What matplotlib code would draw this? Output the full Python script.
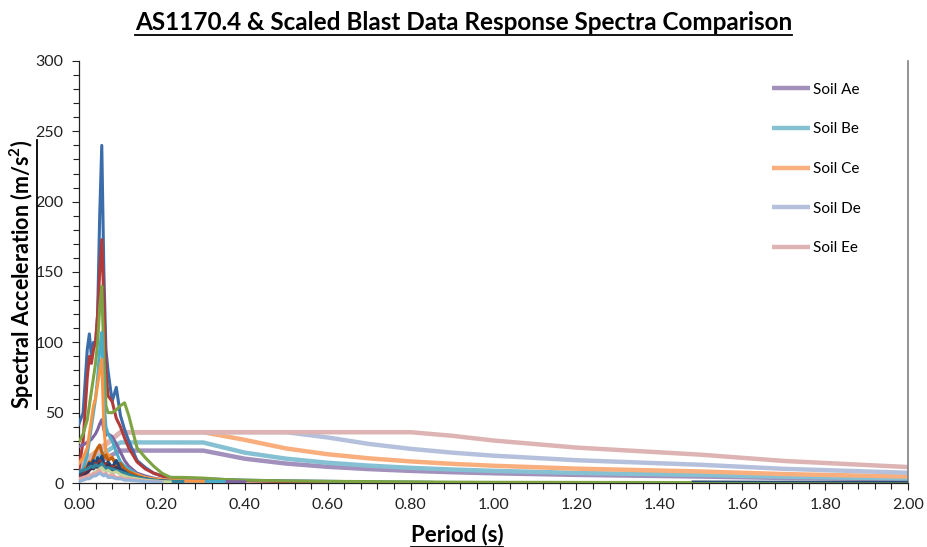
import matplotlib
matplotlib.use("Agg")
import matplotlib.pyplot as plt
from matplotlib.ticker import MultipleLocator, FormatStrFormatter
from matplotlib.lines import Line2D
import numpy as np

plt.rcParams["font.family"] = ["Lato", "DejaVu Sans"]

# AS1170.4 design spectra (m/s^2)
as_period = [0.0, 0.1, 0.2, 0.3, 0.4, 0.5, 0.6, 0.7, 0.8, 0.9, 1.0, 1.2, 1.5, 1.7, 2.0]
soil_ae = [7.85, 23.05, 23.05, 23.02, 17.27, 13.81, 11.51, 9.87, 8.63, 7.67, 6.91, 5.76, 4.60, 3.58, 2.59]
soil_be = [9.81, 28.84, 28.84, 28.78, 21.58, 17.27, 14.39, 12.33, 10.79, 9.59, 8.63, 7.19, 5.76, 4.48, 3.24]
soil_ce = [12.75, 36.10, 36.10, 36.10, 30.66, 24.53, 20.44, 17.52, 15.33, 13.63, 12.26, 10.22, 8.18, 6.36, 4.60]
soil_de = [10.79, 36.10, 36.10, 36.10, 36.10, 36.10, 32.37, 27.75, 24.28, 21.58, 19.42, 16.19, 12.95, 10.08, 7.28]
soil_ee = [10.79, 36.10, 36.10, 36.10, 36.10, 36.10, 36.10, 36.10, 36.10, 33.57, 30.21, 25.18, 20.14, 15.68, 11.33]
soil_names = ["Soil Ae", "Soil Be", "Soil Ce", "Soil De", "Soil Ee"]

# scaled blast record spectra
blast_period = [0.00, 0.01, 0.02, 0.025, 0.03, 0.035, 0.04, 0.045, 0.05, 0.055, 0.06, 0.065,
                0.07, 0.08, 0.09, 0.10, 0.11, 0.12, 0.14, 0.16, 0.18, 0.20, 0.22, 0.25,
                0.30, 0.35, 0.40, 0.50, 0.60, 0.70, 0.85, 1.00, 1.50, 2.00]
blast_1 = [42, 50, 95, 106, 90, 100, 98, 120, 190, 240, 150, 95, 80, 58, 68, 48, 38, 30,
           16, 11, 7, 5, 4, 3.5, 3, 2.5, 2, 1.5, 1.2, 0.8, 0.5]
blast_2 = [10, 30, 75, 90, 85, 95, 100, 120, 150, 173, 130, 80, 62, 58, 46, 40, 32, 25,
           15, 10, 7, 5, 3.5, 3, 2.5, 2, 1.5, 1.0, 0.6]
blast_3 = [29, 35, 45, 55, 65, 75, 85, 100, 125, 140, 90, 55, 50, 50, 52, 55, 57, 48,
           25, 18, 12, 7, 4, 4, 3.5, 2.5, 2, 1.5, 1.2, 1.0, 0.7, 0.5, 0.3, 0.2]
blast_4 = [26, 27, 29, 30, 31, 33, 35, 38, 42, 45, 38, 34, 35, 33, 28, 22, 16, 12,
           7, 5, 3.5, 2.5, 2, 1.5, 1.2, 1.0, 0.8]
blast_5 = [5, 10, 20, 30, 40, 50, 60, 75, 95, 107, 60, 40, 35, 30, 22, 15, 12, 10,
           6, 4, 3, 2, 1.8, 1.5, 1.2, 1.0]
blast_6 = [14, 18, 25, 35, 45, 55, 60, 70, 80, 88, 40, 22, 20, 18, 15, 12, 10, 8,
           6, 4, 3, 2.5, 2, 1.5, 1.2]
blast_7 = [5, 8, 12, 15, 14, 18, 22, 25, 27, 22, 18, 20, 16, 18, 12, 14, 10, 8,
           5, 3, 2, 1.5, 1.2, 1.0]
blast_8 = [6, 8, 10, 14, 12, 16, 13, 18, 15, 19, 14, 12, 15, 11, 16, 10, 8, 6,
           4, 3, 2, 1.5, 1.0]
blast_9 = [4, 6, 9, 12, 10, 11, 14, 12, 16, 13, 12, 14, 10, 12, 9, 8, 6, 5,
           3, 2, 1.5, 1.0]
blast_10 = [3, 5, 7, 9, 11, 10, 12, 11, 14, 12, 10, 11, 13, 9, 11, 8, 6, 4,
            3, 2, 1.5, 1.0]
blast_11 = [8, 9, 10, 11, 12, 11, 13, 12, 12, 14, 12, 10, 11, 10, 9, 8, 7, 6,
            4, 3, 2, 1.5, 1.2, 1.0]
blast_12 = [2, 3, 4, 5, 6, 7, 8, 9, 10, 11, 9, 8, 9, 7, 8, 6, 5, 4,
            3, 2, 1.5, 1.0, 0.8]
blast_13 = [3, 4, 5, 6, 5, 7, 6, 8, 9, 7, 6, 7, 5, 6, 4, 4, 3, 3,
            2, 1.5, 1.0, 0.8]
blast_14 = [1, 2, 3, 3, 4, 5, 5, 6, 7, 6, 5, 6, 4, 4, 3, 3, 2, 2,
            1.5, 1.0, 0.8, 0.6]

blast_series = [blast_1, blast_2, blast_3, blast_4, blast_5, blast_6, blast_7,
                blast_8, blast_9, blast_10, blast_11, blast_12, blast_13, blast_14]
blast_colors = ["#3B6DAA", "#B23B3A", "#7DA343", "#8064A2", "#4BACC6", "#F79646",
                "#C0600E", "#1F497D", "#953735", "#403152", "#31859C", "#C3D69B",
                "#E6A5A3", "#95B3D7"]

# navy tail at long period
tail_period = [1.48, 1.60, 1.80, 2.00]
tail_values = [1.2, 1.1, 1.0, 0.9]

as_series = [soil_ae, soil_be, soil_ce, soil_de, soil_ee]
as_colors = ["#A291BC", "#86C1D3", "#F9AF7D", "#B5C1DC", "#DDB4B3"]

fig = plt.figure(figsize=(9.27, 5.47), dpi=100)
ax = fig.add_axes([0.0852, 0.117, 0.8943, 0.7715])

for vals, col, name in zip(as_series, as_colors, soil_names):
    ax.plot(as_period, vals, color=col, lw=3.2, label=name, zorder=2,
            solid_capstyle="butt")

for vals, col in zip(blast_series, blast_colors):
    ax.plot(blast_period[:len(vals)], vals, color=col, lw=2.2, zorder=3)
ax.plot(tail_period, tail_values, color="#2C4D75", lw=1.2, zorder=3)

ax.set_xlim(0, 2.0)
ax.set_ylim(0, 300)
ax.xaxis.set_major_locator(MultipleLocator(0.2))
ax.xaxis.set_minor_locator(MultipleLocator(0.04))
ax.yaxis.set_major_locator(MultipleLocator(50))
ax.yaxis.set_minor_locator(MultipleLocator(10))
ax.xaxis.set_major_formatter(FormatStrFormatter("%.2f"))
ax.tick_params(axis="both", which="major", direction="out", length=5, width=0.8,
               labelsize=11.5, colors="#222222", pad=6)
ax.tick_params(axis="both", which="minor", direction="out", length=4, width=0.8,
               colors="#222222")
ax.spines["top"].set_visible(False)
ax.spines["right"].set_color("#808080")
ax.spines["right"].set_linewidth(1.2)
for s in ["left", "bottom"]:
    ax.spines[s].set_color("#222222")
    ax.spines[s].set_linewidth(0.9)

leg = ax.legend(loc="upper left", bbox_to_anchor=(764 / 927, 1 - 75 / 547),
                bbox_transform=fig.transFigure, frameon=False, fontsize=11,
                handlelength=2.5, handletextpad=0.2, labelspacing=1.68, borderpad=0)

title = fig.text(0.5, 1 - 22 / 547, "AS1170.4 & Scaled Blast Data Response Spectra Comparison",
                 ha="center", va="center", fontsize=17.5, fontweight="bold")
xlab = fig.text(0.493, 1 - 535 / 547, "Period (s)", ha="center", va="center",
                fontsize=16, fontweight="bold")
ylab = fig.text(22 / 927, 0.498, "Spectral Acceleration (m/s$^\\mathregular{2}$)", ha="center",
                va="center", rotation=90, fontsize=15.5, fontweight="bold")

# underline the title and axis titles
fig.canvas.draw()
r = fig.canvas.get_renderer()
inv = fig.transFigure.inverted()
for t in [title, xlab]:
    bb = t.get_window_extent(r)
    (x0, y0), (x1, y1) = inv.transform([[bb.x0, bb.y0], [bb.x1, bb.y1]])
    fig.add_artist(Line2D([x0, x1], [y0 - 0.002, y0 - 0.002], transform=fig.transFigure,
                          color="black", lw=1.3))
bb = ylab.get_window_extent(r)
(x0, y0), (x1, y1) = inv.transform([[bb.x0, bb.y0], [bb.x1, bb.y1]])
fig.add_artist(Line2D([x1 + 0.001, x1 + 0.001], [y0, y1], transform=fig.transFigure,
                      color="black", lw=1.3))

fig.savefig("out.png", dpi=100)
